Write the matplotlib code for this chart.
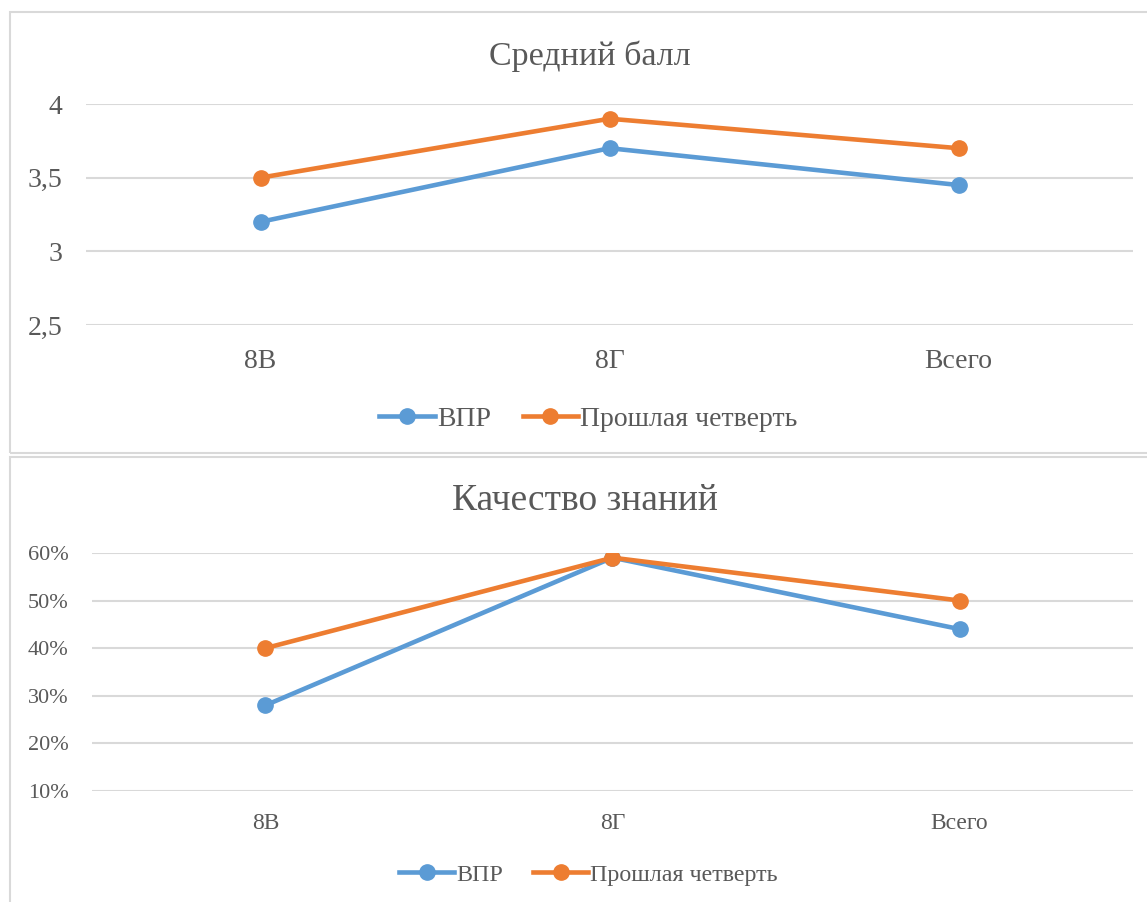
import matplotlib.pyplot as plt
from matplotlib.patches import Rectangle
from matplotlib.ticker import FuncFormatter, MultipleLocator

categories = ["8В", "8Г", "Всего"]
series_names = ["ВПР", "Прошлая четверть"]

avg_vpr = [3.2, 3.7, 3.45]
avg_prev = [3.5, 3.9, 3.7]

quality_vpr = [0.28, 0.59, 0.44]
quality_prev = [0.40, 0.59, 0.50]

blue = "#5b9bd5"
orange = "#ed7d31"
text_col = "#595959"
grid_col = "#d9d9d9"

plt.rcParams["font.family"] = ["Liberation Serif", "DejaVu Serif"]

fig = plt.figure(figsize=(11.47, 9.02), dpi=100)

# рамки двух диаграмм
fig.patches.append(Rectangle((0.0087, 0.4978), 1.2, 0.4889, transform=fig.transFigure,
                             fill=False, edgecolor=grid_col, linewidth=1.5, clip_on=False))
fig.patches.append(Rectangle((0.0087, -0.1), 1.2, 0.5933, transform=fig.transFigure,
                             fill=False, edgecolor=grid_col, linewidth=1.5, clip_on=False))


def style_axes(ax, fs_x, fs_y, xpad, ypad):
    for s in ax.spines.values():
        s.set_visible(False)
    ax.grid(axis="y", color=grid_col, linewidth=1.5)
    ax.set_axisbelow(True)
    ax.tick_params(axis="both", length=0, colors=text_col)
    ax.tick_params(axis="x", pad=xpad, labelsize=fs_x)
    ax.tick_params(axis="y", pad=ypad, labelsize=fs_y)
    ax.set_xlim(-0.5, len(categories) - 0.5)
    ax.set_xticks(range(len(categories)))
    ax.set_xticklabels(categories)


x = range(len(categories))

# верхний график: средний балл
ax1 = fig.add_axes([0.075, 0.6397, 0.9128, 0.245])
l1, = ax1.plot(x, avg_vpr, color=blue, lw=3.3, marker="o", ms=11, label=series_names[0])
l2, = ax1.plot(x, avg_prev, color=orange, lw=3.3, marker="o", ms=11, label=series_names[1])
ax1.set_ylim(2.5, 4)
ax1.yaxis.set_major_locator(MultipleLocator(0.5))
ax1.yaxis.set_major_formatter(FuncFormatter(lambda v, p: ("%g" % v).replace(".", ",")))
style_axes(ax1, 20, 20, 17.5, 17)
fig.text(0.514, 0.938, "Средний балл", ha="center", va="center", fontsize=24.5, color=text_col)
fig.legend(handles=[l1, l2], loc="center", bbox_to_anchor=(0.513, 0.535), ncol=2, frameon=False,
           fontsize=20, handlelength=2.0, handletextpad=0.08, columnspacing=1.15, labelcolor=text_col)

# нижний график: качество знаний
ax2 = fig.add_axes([0.0802, 0.1231, 0.9076, 0.2639])
l3, = ax2.plot(x, quality_vpr, color=blue, lw=3.3, marker="o", ms=11, label=series_names[0])
l4, = ax2.plot(x, quality_prev, color=orange, lw=3.3, marker="o", ms=11, label=series_names[1])
ax2.set_ylim(0.1, 0.6)
ax2.yaxis.set_major_locator(MultipleLocator(0.1))
ax2.yaxis.set_major_formatter(FuncFormatter(lambda v, p: "%d%%" % round(v * 100)))
style_axes(ax2, 17, 16, 16, 17)
fig.text(0.51, 0.445, "Качество знаний", ha="center", va="center", fontsize=27, color=text_col)
fig.legend(handles=[l3, l4], loc="center", bbox_to_anchor=(0.513, 0.030), ncol=2, frameon=False,
           fontsize=17.3, handlelength=2.3, handletextpad=0.08, columnspacing=1.25, labelcolor=text_col)

fig.savefig("out.png", dpi=100)
